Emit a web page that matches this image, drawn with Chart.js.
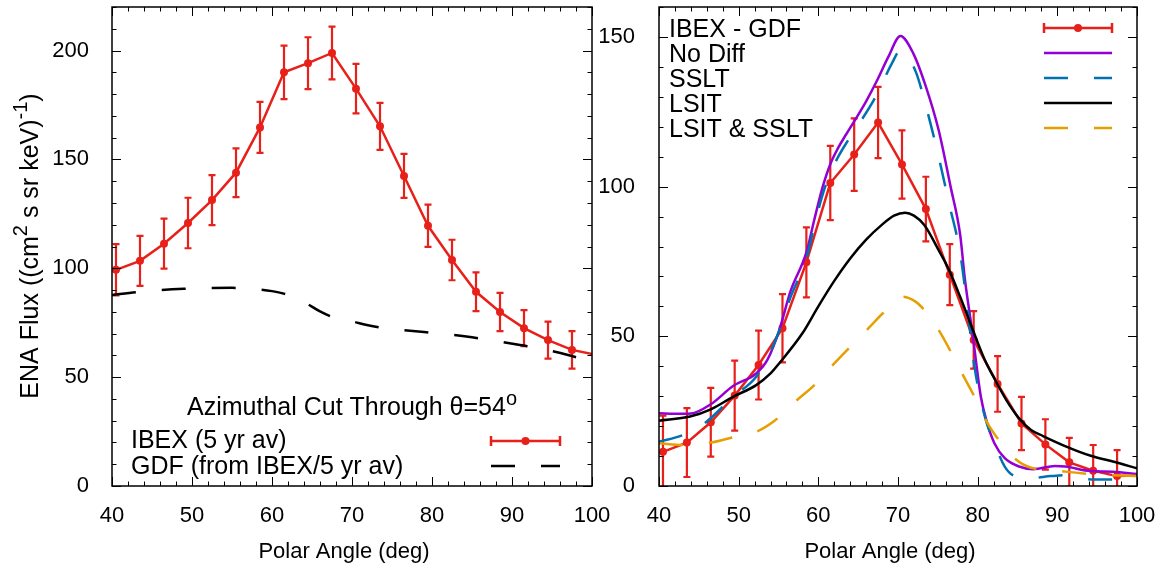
<!DOCTYPE html>
<html>
<head>
<meta charset="utf-8">
<script src="https://cdn.jsdelivr.net/npm/chart.js@4.4.1/dist/chart.umd.min.js"></script>
<style>
html, body { margin: 0; padding: 0; background: #fff; }
#wrap { position: relative; width: 1166px; height: 564px; }
canvas { position: absolute; left: 0; top: 0; }
</style>
</head>
<body>
<div id="wrap">
<canvas id="leftChart" width="1166" height="564"></canvas>
<canvas id="rightChart" width="1166" height="564"></canvas>
</div>
<script>
// IBEX pixel centres (the last one sits just past the axis, only its line shows)
const polarAngles = [40.5, 43.5, 46.5, 49.5, 52.5, 55.5, 58.5, 61.5, 64.5, 67.5,
                     70.5, 73.5, 76.5, 79.5, 82.5, 85.5, 88.5, 91.5, 94.5, 97.5, 100.5];
const ibexFlux = [99.3, 103.4, 111.3, 120.8, 131.3, 143.9, 164.7, 190.0, 194.2, 198.9,
                  182.5, 165.2, 142.4, 119.5, 103.8, 89.2, 79.9, 72.5, 67.0, 62.5, 60.3];
const ibexErr = [11.8, 11.5, 11.5, 11.6, 11.5, 11.2, 11.7, 12.3, 11.9, 12.1,
                 11.4, 10.8, 10.1, 9.7, 9.3, 8.9, 8.8, 8.3, 8.5, 8.6, 8.6];

// GDF model curve (left panel)
const gdfAngles = [40, 43, 46, 49, 52, 55, 58, 60, 62, 64, 66, 68, 70, 72, 74, 76, 79, 82, 85, 88, 91, 94, 97, 100];
const gdfFlux = [87.7, 89.0, 90.0, 90.6, 90.9, 91.0, 90.4, 89.5, 87.8, 84.5, 80.2, 77.0, 75.6, 73.8, 72.6,
                 71.8, 70.7, 69.7, 68.3, 66.6, 64.8, 62.8, 60.2, 57.0];

// IBEX - GDF (right panel)
const diffFlux = [11.4, 14.5, 21.3, 30.2, 40.4, 52.7, 74.7, 101.2, 110.7, 121.4,
                  107.4, 92.5, 70.6, 48.8, 34.1, 20.9, 13.9, 7.9, 5.1, 3.3, 3.5];
const diffErr = [12.1, 11.5, 11.5, 11.7, 11.5, 11.4, 11.7, 12.4, 12.1, 11.9,
                 11.4, 10.8, 10.2, 9.6, 9.3, 8.9, 8.4, 8.2, 8.6, 8.7, 8.7];

// model curves (right panel)
const noDiffAngles = [40, 42, 44, 46.5, 49.3, 52.2, 53.6, 55.1, 56.5, 58.5, 59.5, 60.5, 61.5, 62.5, 63.5, 64.5, 66, 67.4, 68.8, 70.3,
                      71.9, 73.5, 75.1, 76.6, 77.8, 78.4, 79.3, 80.4, 81.2, 82.1, 83.4, 85.2, 87, 89.7, 91, 94.2, 97, 100];
const noDiffFlux = [24.3, 24.1, 24.2, 27.3, 33.4, 37.6, 42.1, 52.1, 65.0, 78.0, 89.0, 99.5, 107.5, 113.0, 117.5, 121.8, 128.5, 135.6, 143.4, 150.3,
                    144.6, 133.4, 118.9, 100, 84, 69, 52, 29.8, 20.9, 14.3, 9.3, 6.5, 5.6, 6.7, 6.5, 5.0, 4.8, 4.0];

const ssltAngles = [40, 43, 45.7, 49.3, 52.2, 54, 55.1, 56.5, 58.5, 59.5, 60.5, 61.5, 62.5, 63.5, 64.5, 67.4, 69.2, 70.3, 71.2, 72.3, 73.5,
                    75.1, 76.4, 77.8, 78.6, 79.6, 80.9, 82.1, 83.4, 84.5, 86.6, 89.2, 91, 94.2, 96.8, 100];
const ssltFlux = [14.8, 17.0, 20.9, 29.8, 36.5, 44.9, 52, 63, 76, 87, 97, 104.5, 110, 114.5, 118.5, 131, 141, 145.5, 143.5, 137.9, 127,
                  110, 94.5, 77.8, 62, 39.9, 23.2, 14.3, 6.5, 3.5, 2.6, 3.3, 3.6, 2.2, 2.2, 0.9];

const lsitAngles = [40, 43.9, 46.5, 49.3, 52.2, 54, 55.1, 58, 60, 62, 64, 66, 68, 69.5, 70.9, 72, 73.3, 75.1, 76.4, 77.8,
                    79.4, 80.9, 82.2, 83.6, 85.2, 86.7, 88.2, 91.2, 94.2, 97.1, 100];
const lsitFlux = [21.8, 23.2, 25.6, 29.8, 33.7, 37.6, 41, 51, 60, 68.5, 76, 82.3, 87.3, 90.3, 91.3, 90.3, 87.2, 78.8, 72.2, 63.2,
                  52.1, 42.1, 35.4, 28.7, 22.6, 18.7, 16.7, 13.1, 10.1, 8.1, 5.9];

const bothAngles = [40, 43, 46.5, 49.3, 52.2, 54.5, 57.1, 59.5, 61.8, 64, 66.3, 68.1, 70.6, 72.2, 73.1, 75.1, 76.4,
                    77.8, 79.6, 80.9, 82.2, 84.4, 86.6, 89.7, 91, 94.2, 100];
const bothFlux = [14.3, 13.7, 14.5, 16.3, 18.1, 21.8, 28.2, 33.7, 40.4, 46.5, 52.7, 57.7, 63.2, 61.6, 59.4, 52.1, 46,
                  38.8, 29.8, 22.6, 17, 9.8, 6.2, 5.3, 4.8, 4.0, 3.3];

const xTickVals = [40, 50, 60, 70, 80, 90, 100];
const leftYTickVals = [0, 50, 100, 150, 200];
const rightYTickVals = [0, 50, 100, 150];

const xTitle = 'Polar Angle (deg)';
const leftLegend = ['IBEX (5 yr av)', 'GDF (from IBEX/5 yr av)'];
const rightLegend = ['IBEX - GDF', 'No Diff', 'SSLT', 'LSIT', 'LSIT & SSLT'];

const RED = '#e8201a', PURPLE = '#9400d3', BLUE = '#0072b2', ORANGE = '#e69f00';
const FAM = "'Liberation Sans', Arial, sans-serif";
const DASH = [24, 26];
const KEY_SIZE = 25;

Chart.defaults.font.family = FAM;
Chart.defaults.font.size = 22;
Chart.defaults.color = '#000';

const pts = (xs, ys) => xs.map((x, i) => ({ x: x, y: ys[i] }));

// text with gnuplot style superscripts: parts = [[text, isSup], ...]
function richText(ctx, parts, x, y, align, size) {
    const base = size + 'px ' + FAM, sup = Math.round(size * 0.8) + 'px ' + FAM;
    let w = 0;
    parts.forEach(([t, s]) => { ctx.font = s ? sup : base; w += ctx.measureText(t).width; });
    let cx = align === 'center' ? x - w / 2 : x;
    parts.forEach(([t, s]) => {
        ctx.font = s ? sup : base;
        ctx.fillText(t, cx, s ? y - size * 0.42 : y);
        cx += ctx.measureText(t).width;
    });
}

function errSample(ctx, x0, x1, y) {
    ctx.strokeStyle = RED; ctx.fillStyle = RED; ctx.lineWidth = 2.5;
    ctx.beginPath();
    ctx.moveTo(x0, y); ctx.lineTo(x1, y);
    ctx.moveTo(x0, y - 5); ctx.lineTo(x0, y + 5);
    ctx.moveTo(x1, y - 5); ctx.lineTo(x1, y + 5);
    ctx.stroke();
    ctx.beginPath(); ctx.arc((x0 + x1) / 2, y, 4, 0, Math.PI * 2); ctx.fill();
}

function lineSample(ctx, x0, x1, y, color, dash) {
    ctx.strokeStyle = color; ctx.lineWidth = 2.5;
    ctx.setLineDash(dash || []);
    ctx.beginPath(); ctx.moveTo(x0, y); ctx.lineTo(x1, y); ctx.stroke();
    ctx.setLineDash([]);
}

const errorBars = {
    id: 'errorBars',
    beforeDatasetsDraw(chart) {
        const { ctx, chartArea: a, scales: { x, y } } = chart;
        ctx.save();
        ctx.beginPath(); ctx.rect(a.left, a.top, a.right - a.left, a.bottom - a.top); ctx.clip();
        chart.data.datasets.forEach(ds => {
            if (!ds.errors) return;
            ctx.strokeStyle = ds.borderColor; ctx.lineWidth = 2.2;
            ds.data.forEach((p, i) => {
                const px = x.getPixelForValue(p.x);
                const top = y.getPixelForValue(p.y + ds.errors[i]);
                const bot = y.getPixelForValue(p.y - ds.errors[i]);
                ctx.beginPath();
                ctx.moveTo(px, top); ctx.lineTo(px, bot);
                ctx.moveTo(px - 3.5, top); ctx.lineTo(px + 3.5, top);
                ctx.moveTo(px - 3.5, bot); ctx.lineTo(px + 3.5, bot);
                ctx.stroke();
            });
        });
        ctx.restore();
    }
};

// border box with inward ticks on all four sides, plus the x title
const frame = {
    id: 'frame',
    afterDraw(chart, args, opts) {
        const { ctx, chartArea: a, scales: { x, y } } = chart;
        ctx.save();
        ctx.strokeStyle = '#000'; ctx.lineWidth = 1;
        for (let v = x.min; v <= x.max + 1e-6; v += opts.xMinor) {
            const px = Math.round(x.getPixelForValue(v)) + 0.5;
            const len = Math.abs(v % opts.xMajor) < 1e-6 ? 9 : 4.5;
            ctx.beginPath();
            ctx.moveTo(px, a.bottom); ctx.lineTo(px, a.bottom - len);
            ctx.moveTo(px, a.top); ctx.lineTo(px, a.top + len);
            ctx.stroke();
        }
        for (let v = y.min; v <= y.max + 1e-6; v += opts.yMinor) {
            const py = Math.round(y.getPixelForValue(v)) + 0.5;
            const len = Math.abs(v % opts.yMajor) < 1e-6 ? 9 : 4.5;
            ctx.beginPath();
            ctx.moveTo(a.left, py); ctx.lineTo(a.left + len, py);
            ctx.moveTo(a.right, py); ctx.lineTo(a.right - len, py);
            ctx.stroke();
        }
        ctx.lineWidth = 1.5;
        ctx.strokeRect(a.left, a.top, a.right - a.left, a.bottom - a.top);
        // gnuplot puts the xlabel a little left of the plot centre
        ctx.fillStyle = '#000';
        ctx.font = '22px ' + FAM;
        ctx.textAlign = 'center'; ctx.textBaseline = 'alphabetic';
        ctx.fillText(xTitle, (a.left + a.right) / 2 - 8, 557.5);
        ctx.restore();
    }
};

const leftNotes = {
    id: 'leftNotes',
    afterDraw(chart) {
        const ctx = chart.ctx;
        ctx.save();
        ctx.fillStyle = '#000'; ctx.textBaseline = 'alphabetic';
        richText(ctx, [['Azimuthal Cut Through \u03b8=54', false], ['o', true]], 352, 415, 'center', KEY_SIZE);
        richText(ctx, [[leftLegend[0], false]], 131, 448, 'left', KEY_SIZE);
        richText(ctx, [[leftLegend[1], false]], 131, 474, 'left', KEY_SIZE);
        errSample(ctx, 491, 560, 441);
        lineSample(ctx, 491, 560, 466, '#000', DASH);
        // y axis title
        ctx.fillStyle = '#000';
        ctx.translate(29, 246);
        ctx.rotate(-Math.PI / 2);
        richText(ctx, [['ENA Flux ((cm', false], ['2', true], [' s sr keV)', false], ['-1', true], [')', false]], 0, 8.5, 'center', KEY_SIZE);
        ctx.restore();
    }
};

const rightNotes = {
    id: 'rightNotes',
    afterDraw(chart) {
        const ctx = chart.ctx;
        const rows = [28, 53, 78, 103, 128];
        ctx.save();
        ctx.fillStyle = '#000'; ctx.textBaseline = 'alphabetic';
        rightLegend.forEach((t, i) => richText(ctx, [[t, false]], 669, rows[i] + 9, 'left', KEY_SIZE));
        errSample(ctx, 1044, 1112, rows[0]);
        lineSample(ctx, 1044, 1112, rows[1], PURPLE);
        lineSample(ctx, 1044, 1112, rows[2], BLUE, DASH);
        lineSample(ctx, 1044, 1112, rows[3], '#000');
        lineSample(ctx, 1044, 1112, rows[4], ORANGE, DASH);
        ctx.restore();
    }
};

function axes(yMax, yTicks, yWidth, yPad) {
    return {
        x: {
            type: 'linear', min: 40, max: 100,
            afterBuildTicks: s => { s.ticks = xTickVals.map(v => ({ value: v })); },
            afterFit: s => { s.height = 78; s.paddingLeft = 0; s.paddingRight = 0; },
            grid: { display: false }, border: { display: false },
            ticks: { padding: 9, autoSkip: false, maxRotation: 0 }
        },
        y: {
            type: 'linear', min: 0, max: yMax,
            afterBuildTicks: s => { s.ticks = yTicks.map(v => ({ value: v })); },
            afterFit: s => { s.width = yWidth; s.paddingTop = 0; s.paddingBottom = 0; },
            grid: { display: false }, border: { display: false },
            ticks: { padding: yPad }
        }
    };
}

const curve = (label, xs, ys, color, dash, order) => ({
    label: label, data: pts(xs, ys), borderColor: color, borderWidth: 2.5,
    borderDash: dash || [], pointRadius: 0, cubicInterpolationMode: 'monotone', order: order
});

const markers = (label, ys, errs, order) => ({
    label: label, data: pts(polarAngles, ys), errors: errs,
    borderColor: RED, backgroundColor: RED, pointBackgroundColor: RED, pointBorderColor: RED,
    borderWidth: 2.5, pointRadius: 4, pointBorderWidth: 0, tension: 0, order: order
});

new Chart(document.getElementById('leftChart'), {
    type: 'line',
    data: {
        datasets: [
            markers(leftLegend[0], ibexFlux, ibexErr, 2),
            curve(leftLegend[1], gdfAngles, gdfFlux, '#000', DASH, 1)
        ]
    },
    options: {
        responsive: false, animation: false, events: [],
        layout: { padding: { left: 0, right: 574, top: 7, bottom: 0 } },
        plugins: { legend: { display: false }, tooltip: { enabled: false },
                   frame: { xMinor: 2, xMajor: 10, yMinor: 10, yMajor: 50 } },
        scales: axes(220, leftYTickVals, 112, 15)
    },
    plugins: [errorBars, frame, leftNotes]
});

new Chart(document.getElementById('rightChart'), {
    type: 'line',
    data: {
        datasets: [
            markers(rightLegend[0], diffFlux, diffErr, 5),
            curve(rightLegend[1], noDiffAngles, noDiffFlux, PURPLE, null, 4),
            curve(rightLegend[2], ssltAngles, ssltFlux, BLUE, DASH, 3),
            curve(rightLegend[3], lsitAngles, lsitFlux, '#000', null, 2),
            curve(rightLegend[4], bothAngles, bothFlux, ORANGE, DASH, 1)
        ]
    },
    options: {
        responsive: false, animation: false, events: [],
        layout: { padding: { left: 600, right: 29, top: 7, bottom: 0 } },
        plugins: { legend: { display: false }, tooltip: { enabled: false },
                   frame: { xMinor: 2, xMajor: 10, yMinor: 10, yMajor: 50 } },
        scales: axes(160, rightYTickVals, 59, 16)
    },
    plugins: [errorBars, frame, rightNotes]
});
</script>
</body>
</html>
